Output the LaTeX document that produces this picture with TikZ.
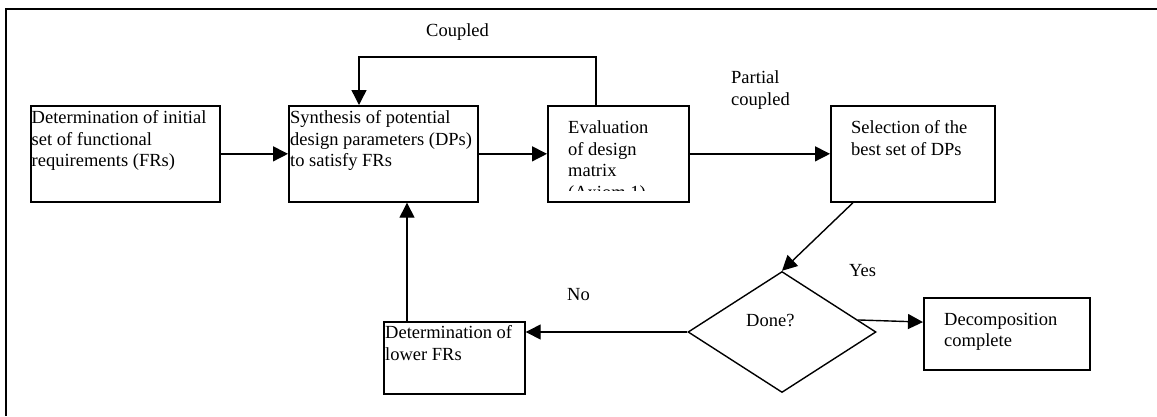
\documentclass[tikz,border=0pt]{standalone}
\usepackage{fontspec}
\setmainfont{Liberation Serif}
\usetikzlibrary{arrows.meta,shapes.geometric,calc}
\begin{document}
\begin{tikzpicture}[x=1pt,y=-1pt,
  box/.style={draw, line width=1.7pt, rectangle, inner sep=0pt, anchor=north west},
  txt/.style={inner sep=0pt, anchor=base west, font=\fontsize{18.5}{21.7}\selectfont},
  link/.style={line width=1.4pt, -{Triangle[length=15pt,width=15pt]}},
  decision/.style={draw, diamond, line width=1.4pt, inner sep=0pt,
                   minimum width=188pt, minimum height=121pt},
]
\useasboundingbox (0,0) rectangle (1157,416);

% outer frame
\draw[line width=2.4pt] (1157,9) -- (6,9) -- (6,416);

% process boxes
\node[box, minimum width=189pt, minimum height=96pt] (b1) at (30,105) {};
\node[box, minimum width=189pt, minimum height=96pt] (b2) at (288,105) {};
\node[box, minimum width=141pt, minimum height=96pt] (b3) at (547,105) {};
\node[box, minimum width=164pt, minimum height=96pt] (b4) at (830,105) {};
\node[box, minimum width=141pt, minimum height=72pt] (b5) at (383,321) {};
\node[box, minimum width=166pt, minimum height=72pt] (dc) at (923,297) {};
\node[decision] (done) at (782,332) {};

% box texts
\node[txt] (t1) at (31.5,123.5) {\parbox[t]{200pt}{\raggedright Determination of initial\\ set of functional\\ requirements (FRs)}};
\node[txt] (t2) at (290,123.5) {\parbox[t]{200pt}{\raggedright Synthesis of potential\\ design parameters (DPs)\\ to satisfy FRs}};
\begin{scope}
  \clip (547,105) rectangle (688,190);
  \node[txt] (t3) at (568,133.3) {\parbox[t]{120pt}{\raggedright Evaluation\\ of design\\ matrix\\ (Axiom 1)}};
\end{scope}
\node[txt] (t4) at (851,133.3) {\parbox[t]{140pt}{\raggedright Selection of the\\ best set of DPs}};
\node[txt] (t5) at (385,338.3) {\parbox[t]{140pt}{\raggedright Determination of\\ lower FRs}};
\node[txt] (t6) at (944,325) {\parbox[t]{140pt}{\raggedright Decomposition\\ complete}};
\node[txt] (tdone) at (746,326) {Done?};

% connector labels
\node[txt] (lcoupled) at (426,36) {Coupled};
\node[txt] (lpartial) at (731,83.5) {\parbox[t]{80pt}{\raggedright Partial\\ coupled}};
\node[txt] (lyes) at (849,276) {Yes};
\node[txt] (lno) at (567,300) {No};

% connectors
\draw[link] (b1) -- (b2);
\draw[link] (b2) -- (b3);
\draw[link] (b3) -- (b4);
\coordinate (cpl) at (359,57);
\draw[link] ($(b3.north)+(-22.5,0)$) |- (cpl) -- (cpl |- b2.north);
\draw[link] ($(b4.south west)+(23,0)$) -- (done.north);
\draw[link] (done.west) -- (done.west -| b5.east);
\coordinate (up) at ($(b5.north west)+(24,0)$);
\draw[link] (up) -- (up |- b2.south);
\draw[link] (done.9) -- (dc.172);
\end{tikzpicture}
\end{document}
